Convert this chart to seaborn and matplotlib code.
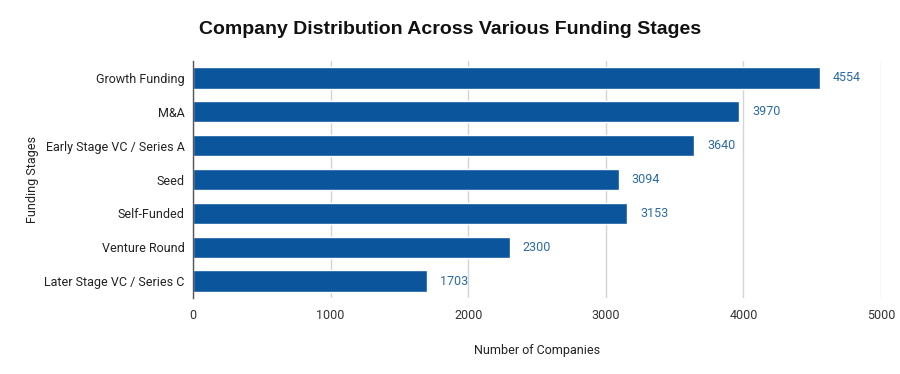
import pandas as pd
import matplotlib.pyplot as plt
import seaborn as sns

stages = ['Growth Funding', 'M&A', 'Early Stage VC / Series A', 'Seed',
          'Self-Funded', 'Venture Round', 'Later Stage VC / Series C']
counts = [4554, 3970, 3640, 3094, 3153, 2300, 1703]
xticks = [0, 1000, 2000, 3000, 4000, 5000]

df = pd.DataFrame({'Funding Stages': stages, 'Number of Companies': counts})

sns.set_style('white')
plt.rcParams['font.family'] = ['Roboto', 'DejaVu Sans']

fig = plt.figure(figsize=(9, 3.74), dpi=100)
ax = fig.add_axes([0.2144, 0.203, 0.7646, 0.634])

sns.barplot(data=df, y='Funding Stages', x='Number of Companies', color='#0b559c',
            saturation=1, width=0.63, ax=ax, zorder=3)

for i, v in enumerate(counts):
    ax.text(v + 95, i, f'{v}', va='center', ha='left', fontsize=9, color='#2a6ba3')

ax.set_xlim(0, 5000)
ax.set_xticks(xticks)
ax.set_xticklabels([str(t) for t in xticks], fontsize=9, color='#333333')
ax.tick_params(axis='y', labelsize=9, labelcolor='#222222', length=0, pad=6)
ax.tick_params(axis='x', length=0, pad=8)
ax.grid(axis='x', color='#d4d4d4', linewidth=1, zorder=0)
for s in ['top', 'right', 'bottom']:
    ax.spines[s].set_visible(False)
ax.spines['left'].set_color('#555555')
ax.spines['left'].set_linewidth(1)
ax.spines['left'].set_zorder(5)

ax.set_xlabel('Number of Companies', fontsize=9, color='#222222', labelpad=16)
ax.set_ylabel('Funding Stages', fontsize=9, color='#222222', labelpad=4)
fig.text(0.5, 0.92, 'Company Distribution Across Various Funding Stages',
         ha='center', va='center', fontsize=14, weight='bold', color='#111111',
         family=['Liberation Sans', 'DejaVu Sans'])

plt.savefig('out.png', dpi=100)
plt.close()
